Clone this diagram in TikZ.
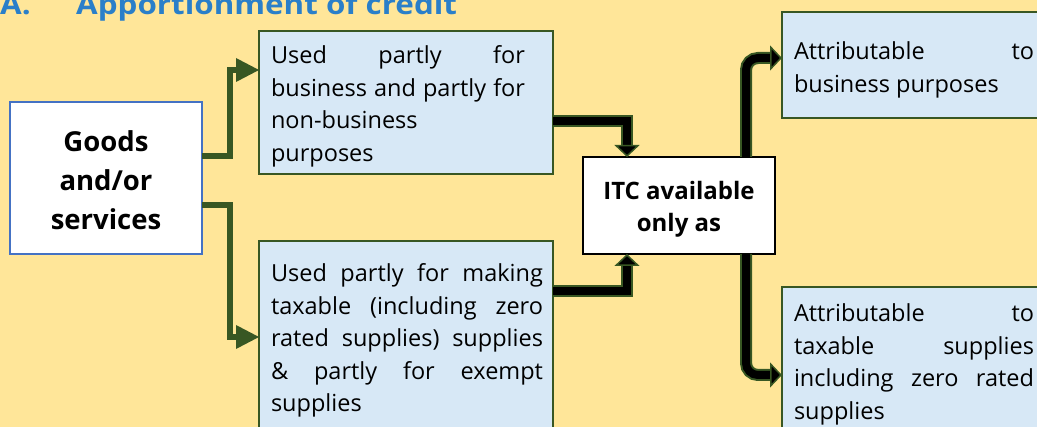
\documentclass[tikz,border=0pt]{standalone}
\usepackage{fontspec}
\setmainfont{Open Sans}
\newfontfamily\titlefont[FakeStretch=1.12]{Open Sans}
\usetikzlibrary{arrows.meta}
\definecolor{bg}{HTML}{FFE699}
\definecolor{boxfill}{HTML}{D7E8F6}
\definecolor{ggreen}{HTML}{385723}
\definecolor{gblue}{HTML}{4472C4}
\definecolor{tblue}{HTML}{2A7FC9}
\newcommand{\boxtxt}[6]{%
  \makebox[#1][l]{\hspace*{#3}\parbox[c][#2][t]{#5}{%
    \fontsize{23.5pt}{32.5pt}\selectfont\hyphenpenalty=10000\exhyphenpenalty=10000\tolerance=10000\hbadness=10000
    \vspace*{#4}\rule{0pt}{20pt}#6}}}
\newcommand{\lowtxt}[2]{\raisebox{-#1}[\height][\depth]{\begin{tabular}{@{}c@{}}#2\end{tabular}}}
\tikzset{
  lbox/.style={draw=ggreen, line width=2pt, fill=boxfill, inner sep=0pt, outer sep=0pt, anchor=north west},
  gbox/.style={draw=gblue, line width=2.5pt, fill=white, inner sep=0pt, outer sep=0pt,
    minimum width=192pt, minimum height=152pt, align=center,
    font=\bfseries\fontsize{27.5pt}{39pt}\selectfont},
  ibox/.style={draw=black, line width=2pt, fill=white, inner sep=0pt, outer sep=0pt,
    minimum width=192pt, minimum height=97pt, align=center,
    font=\bfseries\fontsize{24pt}{32pt}\selectfont},
  gline/.style={draw=ggreen, line width=6pt, -{Triangle[length=23pt,width=24pt,line width=0pt]}},
  bline/.style={draw=black, line width=8pt,
    preaction={draw=ggreen, line width=12pt, -, shorten >=10pt},
    -{Triangle[length=12pt,width=25pt,fill=black,color=ggreen,line width=1.5pt]}},
}
\begin{document}
\begin{tikzpicture}[x=1pt,y=-1pt]
\fill[bg] (0,0) rectangle (1037,427);
\useasboundingbox (0,0) rectangle (1037,427);
\node[anchor=base west, inner sep=0pt, text=tblue, font=\titlefont\bfseries\fontsize{28pt}{34pt}\selectfont] (title) at (0,15) {\makebox[76pt][l]{A.}Apportionment of credit};
\node[gbox] (goods) at (106,178) {\lowtxt{5pt}{Goods\\and/or\\services}};
\node[ibox] (itc) at (679,205.5) {\lowtxt{4pt}{ITC available\\only as}};
\node[lbox] (b1) at (259,31) {\boxtxt{294pt}{143pt}{12pt}{13pt}{254pt}{Used partly for\linebreak business and partly for\linebreak non-business\newline purposes}};
\node[lbox] (b2) at (259,241) {\boxtxt{294pt}{192pt}{12pt}{21pt}{272pt}{Used partly for making\linebreak taxable (including zero\linebreak rated supplies) supplies\linebreak \& partly for exempt\linebreak supplies}};
\node[lbox] (b3) at (782,12) {\boxtxt{268pt}{106pt}{12pt}{28pt}{240pt}{Attributable to\linebreak business purposes}};
\node[lbox] (b4) at (782,287) {\boxtxt{268pt}{176pt}{12pt}{15pt}{240pt}{Attributable to\linebreak taxable supplies\linebreak including zero rated\linebreak supplies}};
\draw[gline] ([yshift=22pt]goods.east) -- ++(28,0) |- ([yshift=32.5pt]b1.west);
\draw[gline] ([yshift=-27pt]goods.east) -- ++(28,0) |- (b2.west);
\draw[bline] ([yshift=-18.5pt]b1.east) -| ([xshift=-52pt]itc.north);
\draw[bline] ([yshift=46pt]b2.east) -| ([xshift=-52pt]itc.south);
\draw[bline, rounded corners=12pt] ([xshift=67pt]itc.north) |- ([yshift=7pt]b3.west);
\draw[bline, rounded corners=12pt] ([xshift=67pt]itc.south) |- (b4.west);
\end{tikzpicture}
\end{document}
